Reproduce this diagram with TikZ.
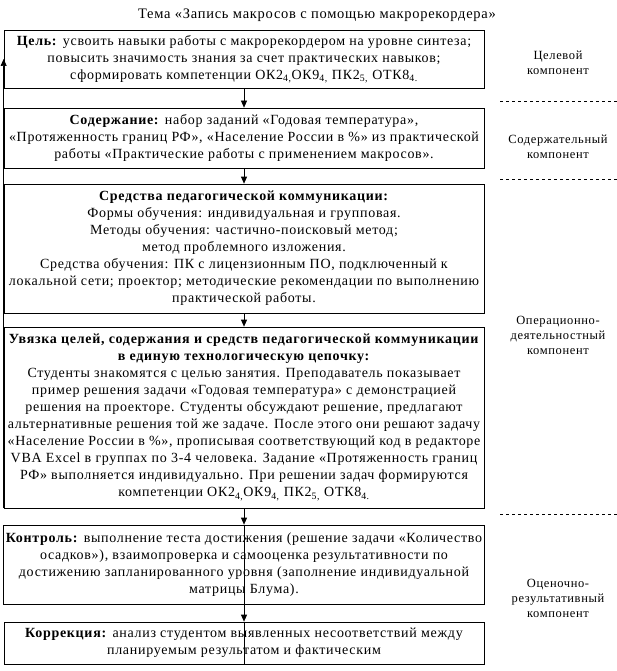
\documentclass[tikz,border=0pt]{standalone}
\usepackage{fontspec}
\setmainfont{Liberation Serif}[LetterSpace=5]
\usepackage{tikz}
\usetikzlibrary{arrows.meta,positioning}

\begin{document}
\begin{tikzpicture}[x=1pt,y=-1pt,
  blok/.style={draw,line width=0.7pt,align=center,minimum width=480pt,inner sep=2pt,font=\fontsize{14}{17}\selectfont},
  komp/.style={align=center,font=\fontsize{12.5}{15}\selectfont},
  f/.style={-{Triangle[length=7pt,width=6pt]},line width=0.7pt},
  razd/.style={dashed,line width=0.5pt}]
  \useasboundingbox (0,0) rectangle (617,671);
  % ---- тема
  \node[font=\fontsize{14.5}{15}\selectfont] (tema) at (317,15) {Тема «Запись макросов с помощью макрорекордера»};
  % ---- блоки
  \node[blok,minimum height=58pt] (cel) at (244,59) {\textbf{Цель:} усвоить навыки работы с макрорекордером на уровне синтеза;\\повысить значимость знания за счет практических навыков;\\сформировать компетенции ОК2\textsubscript{4,}ОК9\textsubscript{4,} ПК2\textsubscript{5,} ОТК8\textsubscript{4.}};
  \node[blok,minimum height=60pt] (sod) at (244,138) {\textbf{Содержание:} набор заданий «Годовая температура»,\\«Протяженность границ РФ», «Население России в \%» из практической\\работы «Практические работы с применением макросов».};
  \node[blok,minimum height=129pt] (sred) at (244,248.5) {\textbf{Средства педагогической коммуникации:}\\Формы обучения: индивидуальная и групповая.\\Методы обучения: частично-поисковый метод;\\метод проблемного изложения.\\Средства обучения: ПК с лицензионным ПО, подключенный к\\локальной сети; проектор; методические рекомендации по выполнению\\практической работы.};
  \node[blok,minimum height=181pt] (uv) at (244,417.5) {\textbf{Увязка целей, содержания и средств педагогической коммуникации}\\\textbf{в единую технологическую цепочку:}\\Студенты знакомятся с целью занятия. Преподаватель показывает\\пример решения задачи «Годовая температура» с демонстрацией\\решения на проекторе. Студенты обсуждают решение, предлагают\\альтернативные решения той же задаче. После этого они решают задачу\\«Население России в \%», прописывая соответствующий код в редакторе\\VBA Excel в группах по 3-4 человека. Задание «Протяженность границ\\РФ» выполняется индивидуально. При решении задач формируются\\компетенции ОК2\textsubscript{4,}ОК9\textsubscript{4,} ПК2\textsubscript{5,} ОТК8\textsubscript{4.}};
  \node[blok,minimum height=79pt] (kon) at (244,564.5) {\textbf{Контроль:} выполнение теста достижения (решение задачи «Количество\\осадков»), взаимопроверка и самооценка результативности по\\достижению запланированного уровня (заполнение индивидуальной\\матрицы Блума).};
  \node[blok,minimum height=42pt] (kor) at (244,643) {\textbf{Коррекция:} анализ студентом выявленных несоответствий между\\планируемым результатом и фактическим};
  % ---- стрелки
  \draw[f] (cel.south) -- (sod.north);
  \draw[f] (sod.south) -- (sred.north);
  \draw[f] (sred.south) -- (uv.north);
  \draw[f] (uv.south) -- (kon.north);
  \draw[f] (kon.north) -- (kor.north);
  \draw[line width=0.7pt] (kor.north) -- (kor.south);
  \draw[f] (uv.south west) -- (cel.west);
  % ---- компоненты
  \node[komp] (k1) at (558,63) {Целевой\\компонент};
  \node[komp] (k2) at (558,147) {Содержательный\\компонент};
  \node[komp] (k3) at (558,335) {Операционно-\\деятельностный\\компонент};
  \node[komp] (k4) at (558,598) {Оценочно-\\результативный\\компонент};
  \draw[razd] (500,101) -- (617,101);
  \draw[razd] (500,179) -- (617,179);
  \draw[razd] (500,514) -- (617,514);
\end{tikzpicture}
\end{document}
